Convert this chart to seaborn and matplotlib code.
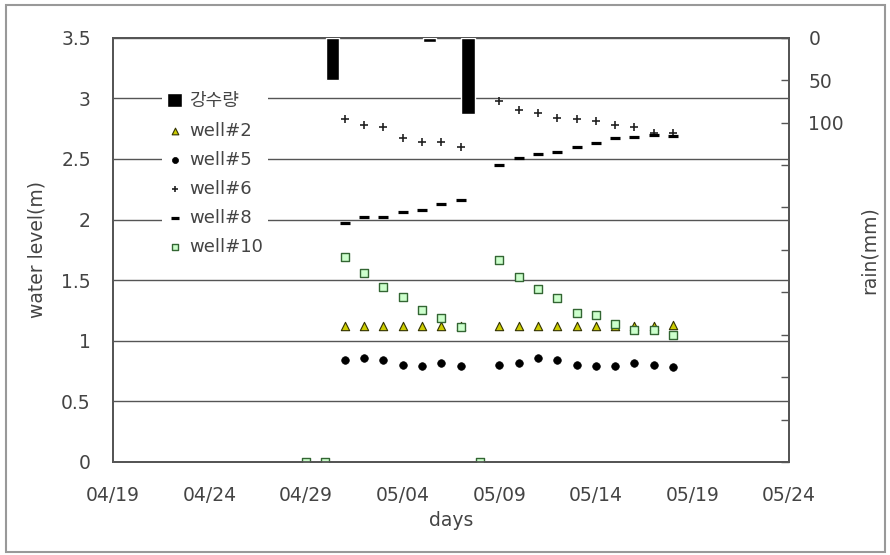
import matplotlib
matplotlib.use("Agg")
import matplotlib.pyplot as plt
import matplotlib.dates as mdates
from matplotlib.patches import Rectangle
from matplotlib.ticker import FuncFormatter
import pandas as pd
import seaborn as sns

YEAR = "2004"

# days with readings (no reading on 05/08)
days = ["05/01", "05/02", "05/03", "05/04", "05/05", "05/06", "05/07",
        "05/09", "05/10", "05/11", "05/12", "05/13", "05/14", "05/15",
        "05/16", "05/17", "05/18"]

well2 = [1.12, 1.12, 1.12, 1.12, 1.12, 1.12, 1.12,
         1.12, 1.12, 1.12, 1.12, 1.12, 1.12, 1.12, 1.12, 1.12, 1.13]
well5 = [0.84, 0.86, 0.84, 0.80, 0.79, 0.82, 0.79,
         0.80, 0.82, 0.86, 0.84, 0.80, 0.79, 0.79, 0.82, 0.80, 0.78]
well6 = [2.83, 2.78, 2.76, 2.67, 2.64, 2.64, 2.60,
         2.98, 2.90, 2.88, 2.84, 2.83, 2.81, 2.78, 2.76, 2.71, 2.71]
well8 = [1.97, 2.02, 2.02, 2.06, 2.08, 2.13, 2.16,
         2.45, 2.51, 2.54, 2.56, 2.60, 2.63, 2.67, 2.68, 2.70, 2.69]

well10_days = ["04/29", "04/30", "05/01", "05/02", "05/03", "05/04", "05/05",
               "05/06", "05/07", "05/08", "05/09", "05/10", "05/11", "05/12",
               "05/13", "05/14", "05/15", "05/16", "05/17", "05/18"]
well10 = [0, 0, 1.69, 1.56, 1.44, 1.36, 1.25, 1.19, 1.11, 0,
          1.67, 1.53, 1.43, 1.35, 1.23, 1.21, 1.14, 1.09, 1.09, 1.05]

rain_days = ["04/30", "05/05", "05/07"]
rain = [50, 5, 90]

x_ticks = ["04/19", "04/24", "04/29", "05/04", "05/09", "05/14", "05/19", "05/24"]


def to_dt(lst):
    return pd.to_datetime([f"{YEAR}/{d}" for d in lst])


sns.set_style("white")
plt.rcParams["font.family"] = ["DejaVu Sans", "Noto Sans CJK KR"]
TXT = "#444444"
GRID = "#555555"

fig, ax = plt.subplots(figsize=(8.9, 5.55), dpi=100)
fig.subplots_adjust(left=0.127, right=0.8865, bottom=0.1676, top=0.932)
ax2 = ax.twinx()

# rain bars on the inverted right axis
ax2.bar(to_dt(rain_days) + pd.Timedelta(hours=9), rain, width=0.7,
        color="black", label="강수량", zorder=3)
ax2.set_ylim(500, 0)

sns.scatterplot(x=to_dt(days), y=well2, marker="^", s=36, color="#cccc00",
                edgecolor="#333300", linewidth=0.8, ax=ax, label="well#2", legend=False, zorder=3)
sns.scatterplot(x=to_dt(days), y=well5, marker="o", s=30, color="black",
                edgecolor="black", linewidth=0.5, ax=ax, label="well#5", legend=False, zorder=3)
sns.scatterplot(x=to_dt(days), y=well6, marker="+", s=30, color="#222222",
                linewidth=1.2, ax=ax, label="well#6", legend=False, zorder=3)
sns.scatterplot(x=to_dt(days), y=well8, marker="_", s=60, color="black",
                linewidth=2.3, ax=ax, label="well#8", legend=False, zorder=3)
sns.scatterplot(x=to_dt(well10_days), y=well10, marker="s", s=34, color="#ccffcc",
                edgecolor="#336633", linewidth=1.0, ax=ax, label="well#10", legend=False, zorder=4)

ax.set_xlim(to_dt(["04/19"])[0], to_dt(["05/24"])[0])
ax.set_xticks(to_dt(x_ticks))
ax.xaxis.set_major_formatter(mdates.DateFormatter("%m/%d"))
ax.set_ylim(0, 3.5)
ax.set_yticks([0, 0.5, 1, 1.5, 2, 2.5, 3, 3.5])
ax.yaxis.set_major_formatter(FuncFormatter(lambda v, p: f"{v:g}"))
ax.grid(axis="y", color=GRID, lw=1)
ax.grid(axis="x", visible=False)
ax.set_axisbelow(True)

rain_ticks = list(range(0, 501, 50))
ax2.set_yticks(rain_ticks)
ax2.set_yticklabels([str(t) if t <= 100 else "" for t in rain_ticks])

fs = 13.5
ax.tick_params(axis="y", length=0, pad=16, labelsize=fs, labelcolor=TXT)
ax.tick_params(axis="x", direction="in", length=5, width=1, color=GRID,
               pad=17, labelsize=fs, labelcolor=TXT)
ax2.tick_params(axis="y", direction="in", length=6, width=1, color=GRID,
                pad=14, labelsize=fs, labelcolor=TXT)

for a in (ax, ax2):
    for sp in a.spines.values():
        sp.set_color(GRID)
        sp.set_linewidth(1.3)

ax.set_xlabel("days", fontsize=fs, color=TXT)
ax.set_ylabel("water level(m)", fontsize=fs, color=TXT)
ax2.set_ylabel("rain(mm)", fontsize=fs, color=TXT)
ax.xaxis.set_label_coords(0.5, -0.115)
ax.yaxis.set_label_coords(-0.098, 0.5)
ax2.yaxis.set_label_coords(1.105, 0.5)

h2, l2 = ax2.get_legend_handles_labels()
h1, l1 = ax.get_legend_handles_labels()
leg = ax2.legend(h2 + h1, l2 + l1, loc="upper left", bbox_to_anchor=(0.059, 0.905),
                 frameon=True, facecolor="white", edgecolor="none", framealpha=1,
                 fontsize=13, labelspacing=0.62, handlelength=0.8, handleheight=0.8,
                 handletextpad=0.4, borderpad=0.3, markerscale=0.8)
for t in leg.get_texts():
    t.set_color(TXT)

fig.add_artist(Rectangle((6 / 890, 1 - 552 / 555), 879 / 890, 547 / 555,
                         transform=fig.transFigure, fill=False,
                         edgecolor="#999999", lw=1.5))

fig.savefig("out.png", dpi=100)
